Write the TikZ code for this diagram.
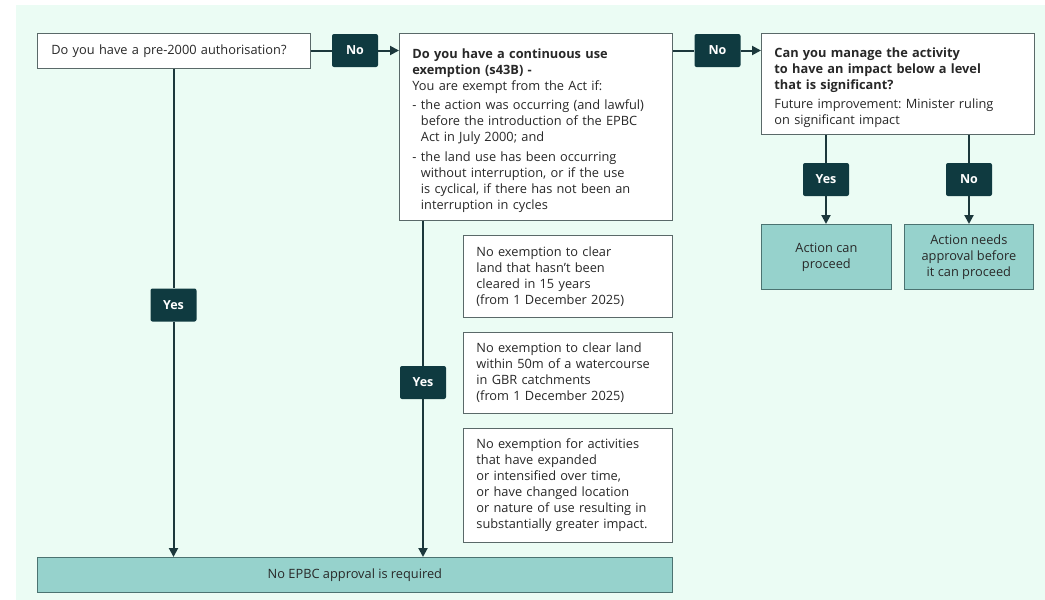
\documentclass[tikz,border=0pt]{standalone}
\usepackage{fontspec}
\setmainfont{Open Sans}
\usetikzlibrary{arrows.meta}
\definecolor{bgmint}{RGB}{235,252,244}
\definecolor{darklab}{RGB}{15,58,64}
\definecolor{linecol}{RGB}{28,56,60}
\definecolor{boxline}{RGB}{90,105,105}
\definecolor{tealfill}{RGB}{150,210,204}
\definecolor{tealline}{RGB}{75,115,113}
\definecolor{txt}{RGB}{40,40,40}
\frenchspacing
\newcommand\dashitem[1]{\par\vspace{3.5pt}\hangindent=8.5pt\hangafter=1\noindent\makebox[8.5pt][l]{-}#1\par}
\newcommand\topstrut{\rule{0pt}{17pt}}
\tikzset{
  basefont/.style={font=\fontsize{12.8}{16}\selectfont\frenchspacing, text=txt},
  qbox/.style={basefont, draw=boxline, line width=0.8pt, fill=white, anchor=north west, align=left, inner ysep=0pt},
  tbox/.style={basefont, draw=tealline, line width=0.8pt, fill=tealfill, anchor=north west, align=center, inner sep=0pt},
  lab/.style={fill=darklab, rounded corners=2pt, text=white, font=\fontsize{12.5}{14}\selectfont\bfseries, minimum width=46pt, minimum height=33pt, inner sep=0pt},
  conn/.style={draw=linecol, line width=2pt},
  arr/.style={conn, -{Triangle[length=9pt,width=9pt]}}
}
\begin{document}
\begin{tikzpicture}[x=1pt,y=-1pt]
\useasboundingbox (0,0) rectangle (1045,600);
\fill[bgmint] (16,5) rectangle (1045,600);

% question boxes
\node[qbox, inner xsep=14pt, text width=245pt, minimum height=35pt] (b1) at (37,33) {Do you have a pre-2000 authorisation?};
\node[qbox, inner xsep=13pt, text width=247pt, minimum height=187pt] (b2) at (399,33)
 {\topstrut\textbf{Do you have a continuous use\newline exemption (s43B) -}\par
  You are exempt from the Act if:
  \dashitem{the action was occurring (and lawful)\newline before the introduction of the EPBC\newline Act in July 2000; and}
  \dashitem{the land use has been occurring\newline without interruption, or if the use\newline is cyclical, if there has not been an\newline interruption in cycles}};
\node[qbox, inner xsep=13pt, text width=247pt, minimum height=101pt] (b3) at (761,33)
 {\topstrut\textbf{Can you manage the activity\newline to have an impact below a level\newline that is significant?}\par\vspace{3pt}
  Future improvement: Minister ruling\newline on significant impact};

% exemption notes
\node[qbox, inner xsep=13pt, text width=183pt, minimum height=82pt] (e1) at (463,235)
 {No exemption to clear\newline land that hasn't been\newline cleared in 15 years\newline (from 1 December 2025)};
\node[qbox, inner xsep=13pt, text width=183pt, minimum height=81pt] (e2) at (463,332)
 {No exemption to clear land\newline within 50m of a watercourse\newline in GBR catchments\newline (from 1 December 2025)};
\node[qbox, inner xsep=13pt, text width=183pt, minimum height=114pt] (e3) at (463,428)
 {No exemption for activities\newline that have expanded\newline or intensified over time,\newline or have changed location\newline or nature of use resulting in\newline substantially greater impact.};

% outcome boxes
\node[tbox, minimum width=130pt, minimum height=65pt] (proc) at (761,224) {Action can\\proceed};
\node[tbox, minimum width=129pt, minimum height=65pt] (appr) at (904,224) {Action needs\\approval before\\it can proceed};
\node[tbox, minimum width=635pt, minimum height=35pt] (bot) at (37,557) {No EPBC approval is required};

% labels
\node[lab] (no1) at (355,50.5) {No};
\node[lab] (no2) at (717.5,50.5) {No};
\node[lab] (yesC) at (826,179.5) {Yes};
\node[lab] (noC) at (969,179.5) {No};
\node[lab] (yesA) at (173.5,305) {Yes};
\node[lab] (yesB) at (423,382.5) {Yes};

% connectors
\draw[conn] (no1.west -| b1.east) -- (no1.west);
\draw[arr] (no1.east) -- (no1.east -| b2.west);
\draw[conn] (no2.west -| b2.east) -- (no2.west);
\draw[arr] (no2.east) -- (no2.east -| b3.west);
\draw[conn] (yesC.north |- b3.south) -- (yesC.north);
\draw[arr] (yesC.south) -- (yesC.south |- proc.north);
\draw[conn] (noC.north |- b3.south) -- (noC.north);
\draw[arr] (noC.south) -- (noC.south |- appr.north);
\draw[conn] (yesA.north |- b1.south) -- (yesA.north);
\draw[arr] (yesA.south) -- (yesA.south |- bot.north);
\draw[conn] (yesB.north |- b2.south) -- (yesB.north);
\draw[arr] (yesB.south) -- (yesB.south |- bot.north);
\end{tikzpicture}
\end{document}
